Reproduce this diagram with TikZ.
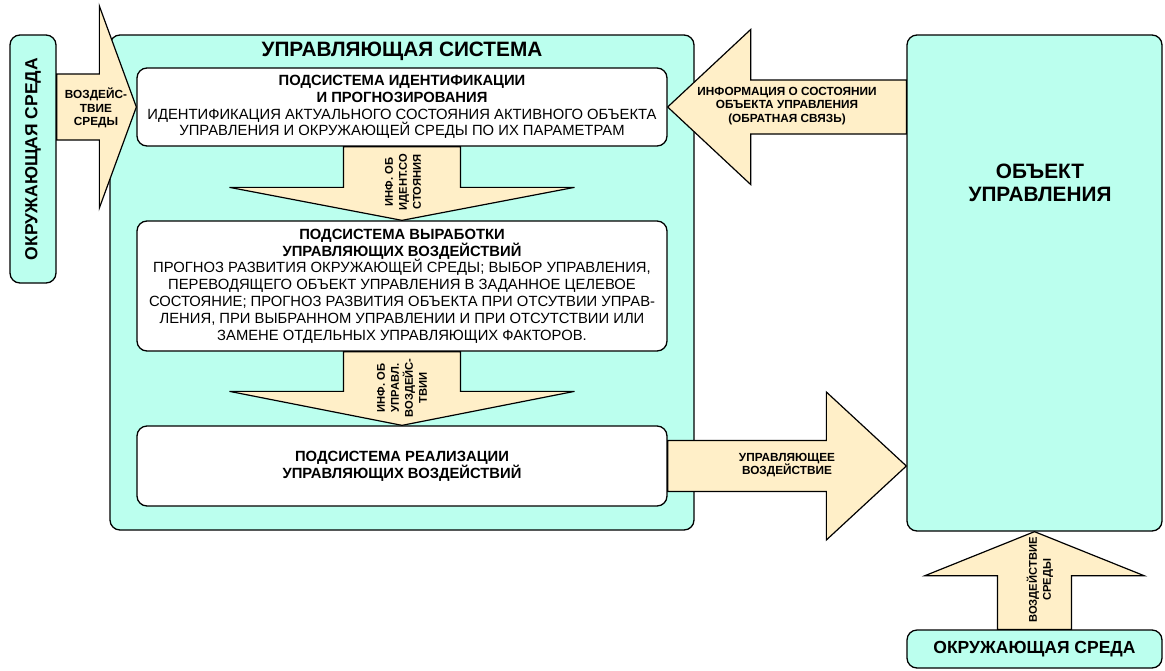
\documentclass[tikz,border=0pt]{standalone}
\usepackage{fontspec}
\setmainfont{Liberation Sans}
\usetikzlibrary{calc}
\definecolor{cyanbox}{HTML}{BBFFEE}
\definecolor{arrowfill}{HTML}{FFEFC8}
\newcommand\fsBody{\fontsize{14.8pt}{16.8pt}\selectfont}
\newcommand\fsSmall{\fontsize{11.8pt}{13.5pt}\selectfont\bfseries}
\newcommand\fsRot{\fontsize{11.2pt}{14pt}\selectfont\bfseries}
\newcommand\fsBig{\fontsize{20.8pt}{23pt}\selectfont\bfseries}
\newcommand\fsEnv{\fontsize{17.5pt}{20pt}\selectfont\bfseries}
\begin{document}
\begin{tikzpicture}[x=1pt,y=-1pt,
  cbox/.style={draw=black,line width=1.3pt,rounded corners=10pt,fill=cyanbox,inner sep=0pt},
  wbox/.style={draw=black,line width=1.3pt,rounded corners=10pt,fill=white,inner sep=0pt,
    align=center,minimum width=530pt,font=\fsBody},
  blk/.style={draw=black,line width=1.2pt,fill=arrowfill,line join=miter},
  lbl/.style={align=center,inner sep=0pt,font=\fsSmall},
  rlbl/.style={align=center,inner sep=0pt,font=\fsRot,rotate=90}]
\useasboundingbox (0,0) rectangle (1165,670);

% main boxes
\node[cbox,minimum width=46pt,minimum height=248pt] (envL) at (33,159) {};
\node[rotate=90,font=\fsEnv,inner sep=0pt] (envLt) at (envL.center) {ОКРУЖАЮЩАЯ СРЕДА};
\node[cbox,minimum width=584pt,minimum height=495pt] (cs) at (402,282.5) {};
\node[font=\fsBig,inner sep=0pt] (cst) at (402,51) {УПРАВЛЯЮЩАЯ СИСТЕМА};
\node[cbox,minimum width=255pt,minimum height=496pt] (obj) at (1034.5,283) {};
\node[font=\fsBig,align=center,inner sep=0pt] (objt) at (1040,183) {ОБЪЕКТ\\УПРАВЛЕНИЯ};
\node[cbox,minimum width=255pt,minimum height=38pt,font=\fsEnv] (envB) at (1034.5,649) {ОКРУЖАЮЩАЯ СРЕДА};

\node[wbox,minimum height=78pt] (ident) at (402,107)
 {\textbf{ПОДСИСТЕМА ИДЕНТИФИКАЦИИ}\\\textbf{И ПРОГНОЗИРОВАНИЯ}\\ИДЕНТИФИКАЦИЯ АКТУАЛЬНОГО СОСТОЯНИЯ АКТИВНОГО ОБЪЕКТА\\УПРАВЛЕНИЯ И ОКРУЖАЮЩЕЙ СРЕДЫ ПО ИХ ПАРАМЕТРАМ};
\node[wbox,minimum height=130pt] (dev) at (402,286)
 {\textbf{ПОДСИСТЕМА ВЫРАБОТКИ}\\\textbf{УПРАВЛЯЮЩИХ ВОЗДЕЙСТВИЙ}\\ПРОГНОЗ РАЗВИТИЯ ОКРУЖАЮЩЕЙ СРЕДЫ; ВЫБОР УПРАВЛЕНИЯ,\\ПЕРЕВОДЯЩЕГО ОБЪЕКТ УПРАВЛЕНИЯ В ЗАДАННОЕ ЦЕЛЕВОЕ\\СОСТОЯНИЕ; ПРОГНОЗ РАЗВИТИЯ ОБЪЕКТА ПРИ ОТСУТВИИ УПРАВ-\\ЛЕНИЯ, ПРИ ВЫБРАННОМ УПРАВЛЕНИИ И ПРИ ОТСУТСТВИИ ИЛИ\\ЗАМЕНЕ ОТДЕЛЬНЫХ УПРАВЛЯЮЩИХ ФАКТОРОВ.};
\node[wbox,minimum height=80pt] (real) at (402,466)
 {\textbf{ПОДСИСТЕМА РЕАЛИЗАЦИИ}\\\textbf{УПРАВЛЯЮЩИХ ВОЗДЕЙСТВИЙ}};

% block arrows
% environment -> identification
\draw[blk] ($(envL.east |- ident.west)+(0,-33)$) -- ($(ident.west)+(-37,-33)$) -- ++(0,-68)
  -- (ident.west) -- ($(ident.west)+(-37,101)$) -- ++(0,-68)
  -- ($(envL.east |- ident.west)+(0,33)$) -- cycle;
% object -> identification (feedback)
\draw[blk] (ident.east) -- ($(ident.east)+(83,-77.5)$) -- ++(0,50.5)
  -- ($(obj.west |- ident.east)+(0,-27)$) -- ($(obj.west |- ident.east)+(0,27)$)
  -- ($(ident.east)+(83,27)$) -- ++(0,50.5) -- cycle;
% realization -> object
\draw[blk] ($(real.east)+(0,-25.5)$) -- ($(obj.west |- real.east)+(-80,-25.5)$) -- ++(0,-48.5)
  -- (obj.west |- real.east) -- ($(obj.west |- real.east)+(-80,74)$) -- ++(0,-48.5)
  -- ($(real.east)+(0,25.5)$) -- cycle;
% identification -> development
\draw[blk] ($(ident.south)+(-58.5,0)$) -- ($(dev.north)+(-58.5,-33)$) -- ++(-114,0)
  -- (dev.north) -- ($(dev.north)+(172.5,-33)$) -- ++(-114,0)
  -- ($(ident.south)+(58.5,0)$) -- cycle;
% development -> realization
\draw[blk] ($(dev.south)+(-58.5,0)$) -- ($(real.north)+(-58.5,-34)$) -- ++(-114,0)
  -- (real.north) -- ($(real.north)+(172.5,-34)$) -- ++(-114,0)
  -- ($(dev.south)+(58.5,0)$) -- cycle;
% environment (bottom) -> object
\draw[blk] ($(envB.north)+(-37,0)$) -- ($(obj.south)+(-37,44)$) -- ++(-72.5,0)
  -- (obj.south) -- ($(obj.south)+(109.5,44)$) -- ++(-72.5,0)
  -- ($(envB.north)+(37,0)$) -- cycle;

% arrow labels
\node[lbl] (l1) at (96,108) {ВОЗДЕЙС-\\ТВИЕ\\СРЕДЫ};
\node[lbl] (l2) at (787,106) {ИНФОРМАЦИЯ О СОСТОЯНИИ\\ОБЪЕКТА УПРАВЛЕНИЯ\\(ОБРАТНАЯ СВЯЗЬ)};
\node[lbl] (l3) at (787,465) {УПРАВЛЯЮЩЕЕ\\ВОЗДЕЙСТВИЕ};
\node[rlbl] (l4) at (403,182) {ИНФ. ОБ\\ИДЕНТ.СО\\СТОЯНИЯ};
\node[rlbl] (l5) at (402,388) {ИНФ. ОБ\\УПРАВЛ.\\ВОЗДЕЙС-\\ТВИИ};
\node[rlbl] (l6) at (1040,580) {ВОЗДЕЙСТВИЕ\\СРЕДЫ};
\end{tikzpicture}
\end{document}
